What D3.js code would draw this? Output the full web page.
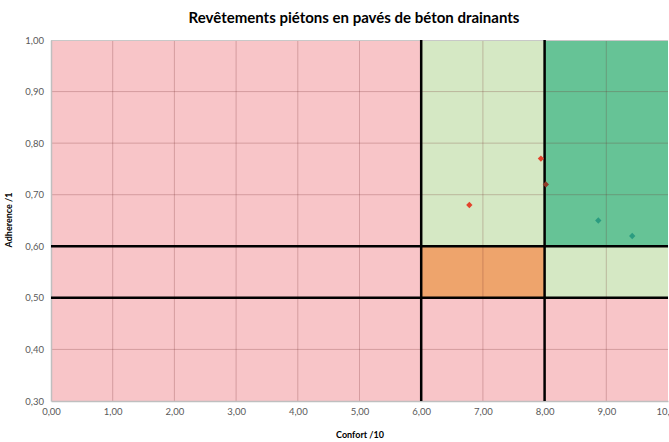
<!DOCTYPE html>
<html>
<head>
<meta charset="utf-8">
<script src="https://cdn.jsdelivr.net/npm/d3@7"></script>
<style>
  html, body { margin: 0; padding: 0; background: #fff; overflow: hidden; }
  svg { display: block; }
  text { font-family: Lato, "Open Sans", "Liberation Sans", sans-serif; }
</style>
</head>
<body>
<svg id="chart" width="669" height="442"></svg>
<script>
// ---- Data ----
const title = "Revêtements piétons en pavés de béton drainants";
const xLabel = "Confort /10";
const yLabel = "Adherence /1";

const xTickValues = [0, 1, 2, 3, 4, 5, 6, 7, 8, 9, 10];
const yTickValues = [0.3, 0.4, 0.5, 0.6, 0.7, 0.8, 0.9, 1.0];

// Zones (rating regions)
const zoneX0 = [0, 6, 6, 8, 8];
const zoneX1 = [10, 8, 8, 10, 10];
const zoneY0 = [0.3, 0.6, 0.5, 0.6, 0.5];
const zoneY1 = [1.0, 1.0, 0.6, 1.0, 0.6];
const zoneColors = ["#f8c5c8", "#d5e8c4", "#eea46c", "#66c396", "#d5e8c4"];

// Threshold lines
const xThresholds = [6, 8];
const yThresholds = [0.5, 0.6];

// Measured products
const confort = [6.78, 7.94, 8.02, 8.87, 9.42];
const adherence = [0.68, 0.77, 0.72, 0.65, 0.62];
const pointColors = ["#e2432c", "#e2432c", "#8e3b28", "#2b9c80", "#2b9c80"];

// ---- Chart ----
(function () {
const svg = d3.select("#chart");
const mLeft = 51, mRight = 668, mTop = 40, mBottom = 401;

const x = d3.scaleLinear().domain([0, 10]).range([mLeft, mRight]);
const y = d3.scaleLinear().domain([0.3, 1.0]).range([mBottom, mTop]);
const fmt = v => d3.format(".2f")(v).replace(".", ",");

// zones
svg.append("g").selectAll("rect")
  .data(zoneX0.map((d, i) => i))
  .join("rect")
  .attr("x", i => x(zoneX0[i]))
  .attr("y", i => y(zoneY1[i]))
  .attr("width", i => x(zoneX1[i]) - x(zoneX0[i]))
  .attr("height", i => y(zoneY0[i]) - y(zoneY1[i]))
  .attr("fill", i => zoneColors[i]);

// grid
const grid = svg.append("g");
grid.selectAll("line.v").data(xTickValues.slice(1, -1)).join("line")
  .attr("class", "v")
  .attr("x1", d => x(d)).attr("x2", d => x(d))
  .attr("y1", mTop).attr("y2", mBottom)
  .attr("stroke", "rgba(110,40,40,0.25)").attr("stroke-width", 1);
grid.selectAll("line.h").data(yTickValues.slice(1, -1)).join("line")
  .attr("class", "h")
  .attr("x1", mLeft).attr("x2", mRight)
  .attr("y1", d => y(d)).attr("y2", d => y(d))
  .attr("stroke", "rgba(110,40,40,0.25)").attr("stroke-width", 1);

// plot border top
svg.append("line").attr("x1", mLeft).attr("x2", mRight)
  .attr("y1", mTop + 0.5).attr("y2", mTop + 0.5)
  .attr("stroke", "#c8c8c8").attr("stroke-width", 1);

// axes
const xAxis = d3.axisBottom(x).tickValues(xTickValues).tickFormat(fmt).tickSize(0).tickPadding(7);
const yAxis = d3.axisLeft(y).tickValues(yTickValues).tickFormat(fmt).tickSize(0).tickPadding(7);

const gx = svg.append("g").attr("transform", `translate(0,${mBottom})`).call(xAxis);
const gy = svg.append("g").attr("transform", `translate(${mLeft},0)`).call(yAxis);
[gx, gy].forEach(g => {
  g.select(".domain").attr("stroke", "#bfbfbf").attr("stroke-width", 1.5);
  g.selectAll("text").attr("font-size", "9.5px").attr("fill", "#595959")
    .style("font-family", "Lato, 'Open Sans', sans-serif");
});

// threshold lines
svg.append("g").selectAll("line").data(yThresholds).join("line")
  .attr("x1", mLeft).attr("x2", mRight)
  .attr("y1", d => y(d)).attr("y2", d => y(d))
  .attr("stroke", "#000").attr("stroke-width", 2.5);
svg.append("g").selectAll("line").data(xThresholds).join("line")
  .attr("x1", d => x(d)).attr("x2", d => x(d))
  .attr("y1", mTop).attr("y2", mBottom)
  .attr("stroke", "#000").attr("stroke-width", 2.5);

// points (square diamonds)
const diamond = d3.symbol().type(d3.symbolSquare).size(20);
svg.append("g").selectAll("path").data(confort.map((d, i) => i)).join("path")
  .attr("d", diamond)
  .attr("transform", i => `translate(${x(confort[i])},${y(adherence[i])}) rotate(45)`)
  .attr("fill", i => pointColors[i]);

// title
svg.append("text").attr("x", 354).attr("y", 23)
  .attr("text-anchor", "middle").attr("font-size", "15px").attr("font-weight", "bold")
  .attr("fill", "#000").text(title);

// axis labels
svg.append("text").attr("x", 360).attr("y", 438)
  .attr("text-anchor", "middle").attr("font-size", "9px").attr("font-weight", "bold")
  .attr("fill", "#000").text(xLabel);
svg.append("text").attr("transform", `translate(12,220) rotate(-90)`)
  .attr("text-anchor", "middle").attr("font-size", "9px").attr("font-weight", "bold")
  .attr("fill", "#000").text(yLabel);
})();
</script>
</body>
</html>
